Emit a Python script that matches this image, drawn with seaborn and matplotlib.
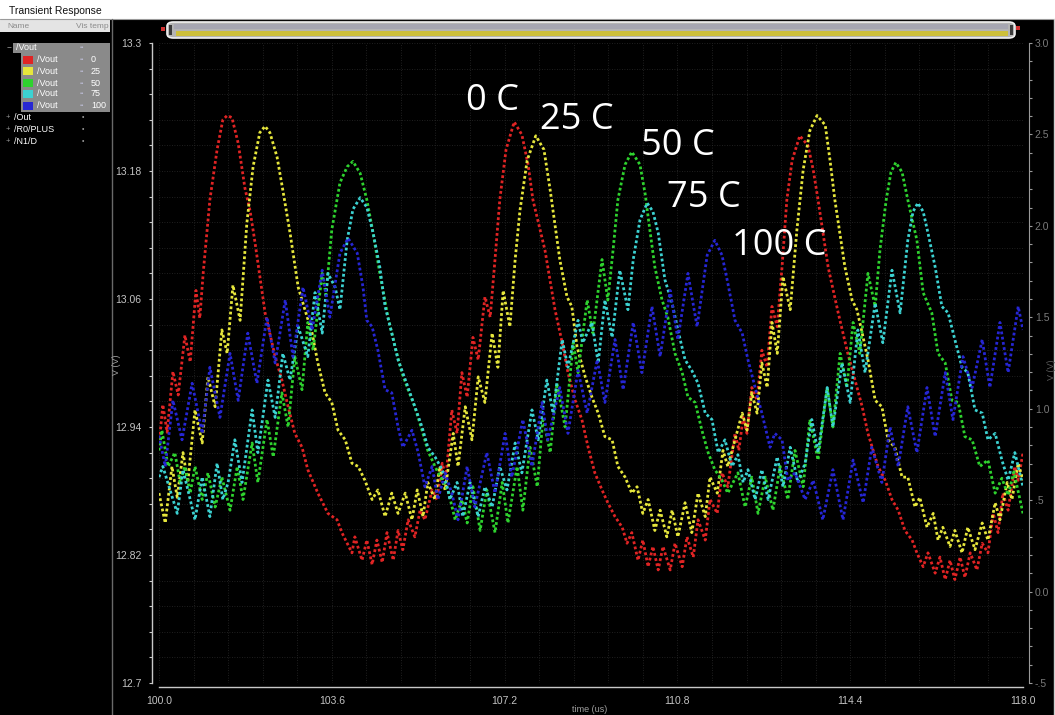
import matplotlib
matplotlib.use("Agg")
import matplotlib.pyplot as plt
import seaborn as sns
import pandas as pd
from matplotlib.patches import Rectangle, FancyBboxPatch
from matplotlib.lines import Line2D
from matplotlib.ticker import FixedLocator, MultipleLocator

# ---------------- data (time in us, voltage in V) ----------------
temps = ["0", "25", "50", "75", "100"]
colors = ["#e02424", "#e6e63c", "#2ed22e", "#3cd2d2", "#2626d4"]
labels_c = ["0 C", "25 C", "50 C", "75 C", "100 C"]
label_pos = [(106.94, 13.246), (108.71, 13.228), (110.81, 13.203), (111.35, 13.155), (112.92, 13.110)]

x_major = [100.0, 103.6, 107.2, 110.8, 114.4, 118.0]
x_major_lbl = ["100.0", "103.6", "107.2", "110.8", "114.4", "118.0"]
y_major = [12.7, 12.82, 12.94, 13.06, 13.18, 13.3]
y_major_lbl = ["12.7", "12.82", "12.94", "13.06", "13.18", "13.3"]
y2_major = [-0.5, 0.0, 0.5, 1.0, 1.5, 2.0, 2.5, 3.0]
y2_major_lbl = ["-.5", "0.0", ".5", "1.0", "1.5", "2.0", "2.5", "3.0"]

red_pts = [(100.00,12.923),(100.08,12.961),(100.17,12.935),(100.29,12.992),(100.40,12.970),(100.54,13.026),(100.65,13.001),(100.77,13.068),(100.85,13.042),(100.92,13.084),(101.06,13.153),(101.21,13.200),(101.33,13.228),(101.42,13.232),(101.52,13.230),(101.65,13.206),(101.79,13.164),(101.90,13.142),(102.00,13.113),(102.21,13.047),(102.42,13.006),(102.56,12.984),(102.69,12.959),(102.83,12.934),(102.98,12.921),(103.10,12.900),(103.31,12.878),(103.52,12.859),(103.71,12.853),(103.81,12.841),(104.02,12.822),(104.08,12.837),(104.23,12.815),(104.33,12.834),(104.44,12.811),(104.54,12.834),(104.65,12.813),(104.75,12.841),(104.88,12.815),(104.98,12.843),(105.08,12.825),(105.19,12.853),(105.33,12.837),(105.44,12.862),(105.54,12.853),(105.69,12.881),(105.79,12.872),(105.90,12.906),(105.98,12.893),(106.10,12.956),(106.21,12.934),(106.31,12.991),(106.42,12.968),(106.54,13.024),(106.65,13.003),(106.79,13.062),(106.90,13.043),(107.00,13.097),(107.10,13.153),(107.23,13.200),(107.40,13.226),(107.56,13.214),(107.69,13.186),(107.79,13.153),(108.04,13.106),(108.25,13.050),(108.40,13.019),(108.52,12.991),(108.67,12.965),(108.81,12.947),(108.94,12.921),(109.08,12.897),(109.23,12.881),(109.35,12.869),(109.50,12.856),(109.65,12.846),(109.75,12.831),(109.85,12.841),(109.98,12.815),(110.08,12.834),(110.19,12.809),(110.29,12.828),(110.40,12.806),(110.50,12.828),(110.65,12.806),(110.75,12.831),(110.90,12.809),(111.00,12.837),(111.13,12.818),(111.23,12.853),(111.38,12.834),(111.48,12.872),(111.63,12.859),(111.73,12.897),(111.85,12.884),(112.00,12.934),(112.08,12.918),(112.17,12.949),(112.25,12.934),(112.35,12.977),(112.46,12.965),(112.56,13.012),(112.67,12.996),(112.77,13.053),(112.88,13.034),(112.98,13.090),(113.08,13.153),(113.19,13.190),(113.35,13.213),(113.52,13.204),(113.63,13.181),(113.73,13.153),(113.94,13.090),(114.15,13.047),(114.35,13.009),(114.50,12.984),(114.65,12.959),(114.77,12.934),(114.98,12.903),(115.13,12.890),(115.27,12.872),(115.40,12.862),(115.54,12.843),(115.69,12.834),(115.79,12.822),(115.92,12.809),(116.02,12.822),(116.17,12.803),(116.27,12.818),(116.38,12.797),(116.48,12.815),(116.58,12.797),(116.69,12.818),(116.79,12.799),(116.90,12.822),(117.04,12.806),(117.15,12.831),(117.27,12.822),(117.38,12.859),(117.48,12.841),(117.58,12.878),(117.69,12.862),(117.83,12.903),(117.90,12.890),(118.00,12.916)]

yellow_pts = [(100.00,12.878),(100.13,12.850),(100.27,12.903),(100.38,12.874),(100.50,12.916),(100.60,12.888),(100.75,12.956),(100.90,12.925),(101.02,12.987),(101.17,12.959),(101.31,13.031),(101.42,13.009),(101.54,13.073),(101.69,13.040),(101.83,13.131),(101.96,13.184),(102.10,13.216),(102.21,13.222),(102.31,13.216),(102.46,13.193),(102.58,13.162),(102.73,13.122),(102.90,13.071),(103.04,13.050),(103.19,13.028),(103.31,13.000),(103.46,12.972),(103.60,12.963),(103.73,12.937),(103.88,12.928),(104.02,12.906),(104.15,12.903),(104.29,12.890),(104.44,12.872),(104.56,12.881),(104.71,12.856),(104.85,12.878),(104.98,12.859),(105.13,12.878),(105.27,12.853),(105.38,12.881),(105.50,12.856),(105.60,12.888),(105.75,12.872),(105.85,12.903),(105.96,12.881),(106.13,12.934),(106.23,12.903),(106.38,12.959),(106.52,12.928),(106.65,12.987),(106.79,12.963),(106.94,13.028),(107.06,12.996),(107.17,13.068),(107.31,13.034),(107.42,13.097),(107.52,13.143),(107.67,13.190),(107.85,13.213),(108.02,13.200),(108.15,13.162),(108.35,13.097),(108.50,13.062),(108.60,13.053),(108.71,13.015),(108.88,12.987),(109.02,12.968),(109.15,12.953),(109.29,12.931),(109.44,12.928),(109.56,12.903),(109.71,12.893),(109.85,12.878),(109.96,12.884),(110.08,12.859),(110.19,12.872),(110.33,12.843),(110.44,12.862),(110.58,12.837),(110.69,12.862),(110.81,12.837),(110.96,12.869),(111.10,12.841),(111.23,12.878),(111.38,12.856),(111.48,12.893),(111.63,12.878),(111.75,12.918),(111.85,12.903),(112.15,12.953),(112.25,12.937),(112.35,12.972),(112.46,12.953),(112.56,13.000),(112.67,12.977),(112.77,13.038),(112.88,13.009),(113.00,13.081),(113.15,13.050),(113.29,13.125),(113.42,13.181),(113.56,13.218),(113.71,13.232),(113.88,13.223),(113.98,13.190),(114.08,13.153),(114.29,13.090),(114.44,13.059),(114.54,13.050),(114.65,13.028),(114.77,13.003),(114.92,12.965),(115.06,12.959),(115.19,12.928),(115.33,12.921),(115.48,12.893),(115.60,12.893),(115.75,12.865),(115.85,12.874),(116.00,12.846),(116.13,12.859),(116.23,12.834),(116.33,12.846),(116.48,12.828),(116.58,12.843),(116.73,12.822),(116.85,12.846),(117.00,12.825),(117.15,12.850),(117.27,12.834),(117.42,12.869),(117.52,12.853),(117.67,12.888),(117.77,12.872),(117.90,12.906),(118.00,12.890)]

green_pts = [(100.00,12.918),(100.06,12.937),(100.19,12.903),(100.33,12.916),(100.44,12.888),(100.54,12.903),(100.65,12.878),(100.75,12.903),(100.90,12.872),(101.02,12.897),(101.17,12.865),(101.31,12.893),(101.48,12.862),(101.63,12.903),(101.75,12.872),(101.94,12.925),(102.06,12.888),(102.25,12.947),(102.38,12.912),(102.56,12.972),(102.69,12.940),(102.83,13.006),(102.98,12.975),(103.10,13.038),(103.21,13.012),(103.40,13.084),(103.48,13.064),(103.60,13.125),(103.77,13.169),(103.92,13.184),(104.04,13.189),(104.19,13.178),(104.33,13.153),(104.46,13.122),(104.60,13.084),(104.77,13.043),(104.92,13.015),(105.06,12.991),(105.19,12.975),(105.33,12.959),(105.48,12.937),(105.60,12.918),(105.75,12.903),(105.90,12.890),(106.02,12.881),(106.17,12.853),(106.31,12.872),(106.42,12.850),(106.54,12.884),(106.69,12.843),(106.83,12.881),(107.00,12.841),(107.15,12.888),(107.27,12.850),(107.46,12.903),(107.58,12.862),(107.73,12.921),(107.88,12.884),(108.00,12.949),(108.15,12.916),(108.29,12.981),(108.46,12.940),(108.63,13.019),(108.73,12.991),(108.92,13.059),(109.04,13.028),(109.23,13.097),(109.35,13.059),(109.46,13.106),(109.56,13.153),(109.71,13.186),(109.85,13.198),(110.02,13.186),(110.13,13.158),(110.19,13.137),(110.33,13.090),(110.48,13.059),(110.60,13.043),(110.75,13.009),(110.90,12.991),(111.02,12.968),(111.17,12.963),(111.31,12.937),(111.44,12.916),(111.58,12.900),(111.73,12.890),(111.85,12.878),(112.06,12.897),(112.21,12.865),(112.35,12.893),(112.48,12.859),(112.63,12.893),(112.79,12.862),(112.94,12.903),(113.10,12.872),(113.25,12.918),(113.42,12.884),(113.56,12.947),(113.73,12.909),(113.92,12.977),(114.04,12.940),(114.19,13.009),(114.33,12.977),(114.46,13.038),(114.60,13.009),(114.77,13.084),(114.92,13.053),(115.02,13.106),(115.15,13.153),(115.25,13.179),(115.35,13.188),(115.48,13.179),(115.60,13.153),(115.79,13.115),(115.92,13.066),(116.10,13.047),(116.23,13.009),(116.38,13.000),(116.52,12.965),(116.65,12.963),(116.79,12.931),(116.94,12.928),(117.10,12.903),(117.27,12.909),(117.42,12.878),(117.56,12.892),(117.69,12.876),(117.81,12.898),(118.00,12.859)]

cyan_pts = [(100.00,12.893),(100.08,12.903),(100.23,12.881),(100.38,12.859),(100.50,12.900),(100.65,12.872),(100.75,12.853),(100.90,12.893),(101.06,12.856),(101.21,12.906),(101.33,12.872),(101.44,12.888),(101.58,12.928),(101.73,12.888),(101.94,12.956),(102.06,12.916),(102.27,12.984),(102.42,12.949),(102.58,13.009),(102.73,12.984),(102.90,13.034),(103.10,13.006),(103.25,13.066),(103.40,13.028),(103.52,13.084),(103.67,13.071),(103.77,13.050),(103.92,13.115),(104.04,13.144),(104.19,13.155),(104.33,13.146),(104.46,13.122),(104.60,13.090),(104.71,13.053),(104.85,13.028),(104.98,13.003),(105.19,12.977),(105.33,12.959),(105.48,12.940),(105.60,12.921),(105.75,12.912),(105.90,12.900),(106.02,12.881),(106.06,12.872),(106.21,12.888),(106.33,12.856),(106.48,12.888),(106.65,12.856),(106.79,12.884),(106.94,12.865),(107.10,12.903),(107.25,12.881),(107.42,12.925),(107.56,12.897),(107.77,12.956),(107.90,12.928),(108.08,12.984),(108.21,12.953),(108.40,13.022),(108.52,12.996),(108.73,13.040),(108.83,13.019),(109.02,13.038),(109.15,13.000),(109.29,13.059),(109.44,13.024),(109.60,13.087),(109.77,13.050),(109.88,13.097),(110.02,13.134),(110.17,13.150),(110.29,13.142),(110.40,13.122),(110.54,13.078),(110.69,13.056),(110.81,13.031),(110.96,13.003),(111.10,12.993),(111.23,12.981),(111.38,12.953),(111.52,12.947),(111.65,12.916),(111.79,12.928),(111.94,12.903),(112.06,12.914),(112.17,12.888),(112.27,12.900),(112.42,12.872),(112.56,12.900),(112.69,12.872),(112.88,12.912),(113.00,12.884),(113.15,12.921),(113.31,12.888),(113.46,12.906),(113.60,12.947),(113.73,12.916),(113.92,12.977),(114.04,12.940),(114.23,13.000),(114.40,12.963),(114.56,13.031),(114.71,12.991),(114.92,13.056),(115.08,13.019),(115.27,13.087),(115.44,13.047),(115.60,13.115),(115.71,13.142),(115.81,13.150),(115.92,13.142),(116.02,13.122),(116.17,13.090),(116.31,13.053),(116.44,13.047),(116.58,13.022),(116.73,12.996),(116.85,12.991),(117.00,12.956),(117.15,12.953),(117.27,12.928),(117.42,12.934),(117.56,12.909),(117.69,12.890),(117.83,12.916),(118.00,12.884)]

blue_pts = [(100.00,12.932),(100.13,12.903),(100.29,12.965),(100.48,12.928),(100.69,12.981),(100.90,12.934),(101.06,12.996),(101.27,12.949),(101.48,13.009),(101.65,12.965),(101.85,13.028),(102.04,12.981),(102.25,13.043),(102.42,13.000),(102.63,13.059),(102.79,13.006),(103.00,13.071),(103.19,13.031),(103.40,13.087),(103.56,13.043),(103.77,13.103),(103.94,13.117),(104.13,13.103),(104.25,13.071),(104.33,13.040),(104.44,13.034),(104.56,13.012),(104.71,12.975),(104.85,12.972),(104.98,12.940),(105.08,12.921),(105.27,12.937),(105.40,12.916),(105.54,12.884),(105.69,12.903),(105.81,12.872),(105.96,12.897),(106.10,12.878),(106.23,12.853),(106.42,12.903),(106.58,12.865),(106.83,12.916),(107.00,12.878),(107.21,12.934),(107.35,12.893),(107.58,12.947),(107.77,12.903),(107.98,12.963),(108.10,12.928),(108.35,12.977),(108.52,12.934),(108.73,12.993),(108.92,12.953),(109.13,13.003),(109.29,12.963),(109.50,13.022),(109.67,12.975),(109.88,13.038),(110.06,12.991),(110.27,13.053),(110.44,13.006),(110.65,13.068),(110.81,13.022),(111.02,13.084),(111.21,13.034),(111.42,13.101),(111.58,13.115),(111.73,13.101),(111.85,13.075),(112.00,13.040),(112.15,13.028),(112.27,13.003),(112.42,12.977),(112.56,12.953),(112.73,12.921),(112.83,12.934),(112.98,12.928),(113.10,12.890),(113.25,12.897),(113.46,12.872),(113.63,12.890),(113.83,12.853),(114.04,12.900),(114.25,12.853),(114.46,12.909),(114.67,12.869),(114.85,12.921),(115.06,12.888),(115.23,12.940),(115.40,12.903),(115.60,12.959),(115.79,12.916),(116.00,12.977),(116.17,12.931),(116.38,12.991),(116.54,12.947),(116.75,13.006),(116.94,12.977),(117.15,13.022),(117.31,12.977),(117.52,13.038),(117.69,12.991),(117.90,13.053),(118.00,13.031)]

series = [red_pts, yellow_pts, green_pts, cyan_pts, blue_pts]

rows = []
for name, pts in zip(temps, series):
    for t, v in pts:
        rows.append((name, t, v))
df = pd.DataFrame(rows, columns=["temp", "time", "V"])

# ---------------- figure ----------------
W, H = 1055, 715
sns.set_style("dark")
plt.rcParams["font.family"] = ["Liberation Sans", "DejaVu Sans"]

fig = plt.figure(figsize=(W / 100, H / 100), dpi=100, facecolor="black")

def rect(x0, y0, x1, y1, color, z=1, **kw):
    r = Rectangle((x0 / W, 1 - y1 / H), (x1 - x0) / W, (y1 - y0) / H,
                  transform=fig.transFigure, facecolor=color, edgecolor="none", zorder=z, **kw)
    fig.patches.append(r)
    return r

def ftext(x, y, s, **kw):
    kw.setdefault("va", "center")
    kw.setdefault("ha", "left")
    return fig.text(x / W, 1 - y / H, s, **kw)

ax = fig.add_axes([159 / W, 1 - 683 / H, 864 / W, 640 / H])
ax.set_facecolor("black")

sns.lineplot(data=df, x="time", y="V", hue="temp", hue_order=temps,
             palette=colors, estimator=None, sort=False, legend=False,
             ax=ax, linewidth=2.0)
for ln in ax.lines:
    ln.set_dashes([1.0, 0.9])
    ln.set_dash_capstyle("butt")

ax.set_xlim(100, 118)
ax.set_ylim(12.7, 13.3)
ax.set_xticks(x_major)
ax.set_xticklabels(x_major_lbl)
ax.set_yticks(y_major)
ax.set_yticklabels(y_major_lbl)
ax.xaxis.set_minor_locator(FixedLocator([100 + 0.72 * i for i in range(26)]))
ax.yaxis.set_minor_locator(FixedLocator([12.7 + 0.024 * i for i in range(26)]))
ax.set_xlabel("")
ax.set_ylabel("")

for s in ["top", "right"]:
    ax.spines[s].set_visible(False)
ax.spines["left"].set_position(("outward", 5))
ax.spines["bottom"].set_position(("outward", 3))
for s in ["left", "bottom"]:
    ax.spines[s].set_color("#c8c8c8")
    ax.spines[s].set_linewidth(1.0)

ax.tick_params(axis="both", which="both", direction="out", color="#c8c8c8",
               length=2.5, width=0.8, labelsize=7.5, labelcolor="#c4c4c4")
ax.tick_params(axis="x", pad=4)
ax.tick_params(axis="y", pad=5)
ax.grid(True, which="both", color="#2a2a2a", linewidth=0.6, linestyle=(0, (1, 2)))
ax.set_axisbelow(True)

for lbl, (tx, ty) in zip(labels_c, label_pos):
    ax.text(tx, ty, lbl, color="white", fontsize=26, family=["Open Sans", "DejaVu Sans"],
            ha="center", va="center", zorder=10)

ax2 = ax.twinx()
ax2.set_ylim(-0.5, 3.0)
ax2.set_yticks(y2_major)
ax2.set_yticklabels(y2_major_lbl)
ax2.yaxis.set_minor_locator(MultipleLocator(0.1))
for s in ["top", "left", "bottom"]:
    ax2.spines[s].set_visible(False)
ax2.spines["right"].set_position(("outward", 4))
ax2.spines["right"].set_color("#9a9a9a")
ax2.tick_params(axis="y", which="both", direction="out", color="#9a9a9a",
                length=2.5, width=0.8, labelsize=7.5, labelcolor="#7a7a7a", pad=2)
ax2.grid(False)

# ---------------- window chrome ----------------
rect(0, 0, W, 19, "white", z=0)
fig.lines.append(Line2D([0, 1], [1 - 19 / H, 1 - 19 / H], transform=fig.transFigure, color="#9a9a9a", lw=0.8))
ftext(9, 11, "Transient Response", fontsize=7.5, color="#111111")
rect(0, 19, 110, 32, "#e4e4e4", z=0)
ftext(7, 26, "Name", fontsize=6, color="#8c8c8c")
ftext(76, 26, "Vis temp", fontsize=6, color="#8c8c8c")

rect(13, 43, 110, 53, "#8a8a8a")
rect(21, 53, 110, 112, "#8a8a8a")
ftext(7, 48, "\u2212", fontsize=6, color="#a0a0a0")
ftext(16, 48, "/Vout", fontsize=6.5, color="white")
ftext(80, 48, "\u25e6\u25e6", fontsize=4.5, color="#d8d8ff")
for yy, c, tv in zip([60, 71, 83, 94, 106], colors, temps):
    rect(23, yy - 4, 33, yy + 4, c, z=2)
    ftext(37, yy, "/Vout", fontsize=6.5, color="white")
    ftext(80, yy, "\u25e6\u25e6", fontsize=4.5, color="#d8d8ff")
    ftext(91, yy, tv, fontsize=6.5, color="white")
for yy, nm in zip([117, 129, 141], ["/Out", "/R0/PLUS", "/N1/D"]):
    ftext(6, yy, "+", fontsize=5.5, color="#9a9a9a")
    ftext(14, yy, nm, fontsize=6.5, color="white")
    ftext(82, yy, "\u2022", fontsize=5, color="#9a9a9a")

fig.lines.append(Line2D([112 / W, 112 / W], [0, 1 - 19 / H], transform=fig.transFigure, color="#6a6a6a", lw=1.0))
fig.lines.append(Line2D([1054 / W, 1054 / W], [0, 1 - 19 / H], transform=fig.transFigure, color="#d0d0d0", lw=1.0))

bar = FancyBboxPatch((167 / W, 1 - 38 / H), (1015 - 167) / W, 16 / H,
                     boxstyle="round,pad=0,rounding_size=0.006", transform=fig.transFigure,
                     facecolor="#b4b4b4", edgecolor="#f2f2f2", lw=1.2, zorder=1)
fig.patches.append(bar)
rect(174, 24, 1008, 29, "#a6a6b2", z=2)
rect(176, 31, 1008, 36, "#cdbf3a", z=2)
rect(169, 25, 172, 35, "#3a3a3a", z=3)
rect(1010, 25, 1013, 35, "#3a3a3a", z=3)
rect(161, 27, 165, 31, "#d03030", z=3)
rect(1016, 26, 1020, 30, "#d03030", z=3)

ftext(117, 365, "V (V)", fontsize=6.5, color="#a0a0a0", rotation=90, ha="center")
ftext(590, 709, "time (us)", fontsize=6.5, color="#a0a0a0", ha="center")
ftext(1051, 370, "V (V)", fontsize=6.5, color="#5a5a5a", rotation=90, ha="center")

fig.savefig("out.png", dpi=100, facecolor="black")
